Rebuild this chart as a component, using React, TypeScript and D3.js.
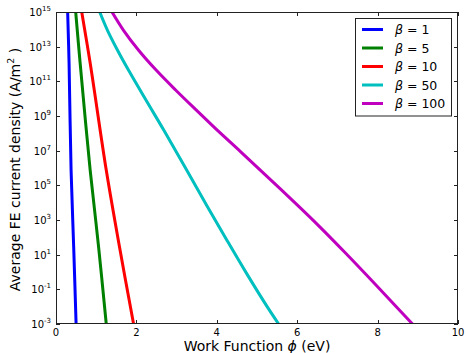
import React from "react";
import * as d3 from "d3";

const betaLabels = ["1", "5", "10", "50", "100"];
const colors = ["#0000ff", "#008000", "#ff0000", "#00bfbf", "#bf00bf"];

// Work function (eV) and log10 of current density (A/m^2)
const phiB1 = [0.29, 0.325, 0.375, 0.44, 0.5];
const logB1 = [15, 12.06, 5.88, 1.44, -3];
const phiB5 = [0.49, 0.6, 0.85, 1.06, 1.25];
const logB5 = [15, 12.06, 5.88, 1.44, -3];
const phiB10 = [0.64, 0.85, 1.25, 1.58, 1.93];
const logB10 = [15, 12.06, 5.88, 1.44, -3];
const phiB50 = [1.0875, 1.2775, 1.5275, 1.8025, 2.2375, 2.68, 3.25, 3.7675, 4.2475, 4.74, 5.2525, 5.5375];
const logB50 = [15, 13.96, 12.81, 11.65, 9.92, 8.19, 5.88, 3.77, 1.85, -0.08, -2.0, -3];
const phiB100 = [1.393, 1.675, 2.05, 2.49, 2.975, 3.485, 4.01, 4.545, 5.1675, 6.045, 6.555, 7.2075, 8.0, 8.8675];
const logB100 = [15, 13.96, 12.81, 11.65, 10.5, 9.35, 8.19, 7.04, 5.69, 3.77, 2.62, 1.08, -0.85, -3];

const xTicks = [0, 2, 4, 6, 8, 10];
const yTickExps = [-3, -1, 1, 3, 5, 7, 9, 11, 13, 15];

const seriesPhi = [phiB1, phiB5, phiB10, phiB50, phiB100];
const seriesLog = [logB1, logB5, logB10, logB50, logB100];

export default function App() {
  const W = 466, H = 353;
  const L = 56, R = 458, T = 12, B = 324;
  const x = d3.scaleLinear().domain([0, 10]).range([L, R]);
  const y = d3.scaleLog().domain([1e-3, 1e15]).range([B, T]);
  const line = d3
    .line<[number, number]>()
    .x((d) => x(d[0]))
    .y((d) => y(d[1]))
    .curve(d3.curveCatmullRom.alpha(0.5));
  const font = "DejaVu Sans, sans-serif";
  const tick = 4;
  return (
    <svg
      width={W}
      height={H}
      style={{ position: "absolute", left: 0, top: 0, background: "#fff" }}
      fontFamily={font}
    >
      <defs>
        <clipPath id="plot">
          <rect x={L} y={T} width={R - L} height={B - T} />
        </clipPath>
      </defs>
      <g clipPath="url(#plot)">
        {seriesPhi.map((ph, i) => {
          const pts: [number, number][] = ph.map((p, j) => [p, Math.pow(10, seriesLog[i][j])]);
          return (
            <path
              key={i}
              d={line(pts) || ""}
              fill="none"
              stroke={colors[i]}
              strokeWidth={3}
              strokeLinejoin="round"
            />
          );
        })}
      </g>
      <rect x={L + 0.5} y={T + 0.5} width={R - L - 1} height={B - T - 1} fill="none" stroke="#222" strokeWidth={1} />
      {xTicks.map((t) => {
        const px = Math.round(x(t)) + 0.5;
        return (
          <g key={"x" + t}>
            <line x1={px} x2={px} y1={B} y2={B - tick} stroke="#222" />
            <line x1={px} x2={px} y1={T} y2={T + tick} stroke="#222" />
            <text x={x(t)} y={336} fontSize={10} textAnchor="middle" fill="#000">
              {t}
            </text>
          </g>
        );
      })}
      {yTickExps.map((e) => {
        const py = Math.round(y(Math.pow(10, e))) + 0.5;
        return (
          <g key={"y" + e}>
            <line x1={L} x2={L + tick} y1={py} y2={py} stroke="#222" />
            <line x1={R} x2={R - tick} y1={py} y2={py} stroke="#222" />
            <text x={51} y={y(Math.pow(10, e)) + 4} fontSize={10} textAnchor="end" fill="#000">
              10
              <tspan fontSize={7} dy={-5}>
                {e}
              </tspan>
            </text>
          </g>
        );
      })}
      <text x={(L + R) / 2} y={350.5} fontSize={14} textAnchor="middle" fill="#000">
        Work Function <tspan fontStyle="italic">ϕ</tspan> (eV)
      </text>
      <text
        transform={`translate(19.5,${(T + B) / 2 + 1.5}) rotate(-90)`}
        fontSize={14}
        textAnchor="middle"
        fill="#000"
      >
        Average FE current density (A/m
        <tspan fontSize={9.5} dy={-6}>2</tspan>
        <tspan dy={6}> )</tspan>
      </text>
      <rect x={355.5} y={18.5} width={96} height={97.5} fill="#fff" stroke="#222" strokeWidth={1} />
      {betaLabels.map((b, i) => {
        const ly = 29.5 + i * 18.5;
        return (
          <g key={"l" + b}>
            <line x1={362} x2={383} y1={ly} y2={ly} stroke={colors[i]} strokeWidth={3} />
            <text x={395} y={ly + 4.5} fontSize={12.5} fill="#000">
              <tspan fontStyle="italic">β</tspan> = {b}
            </text>
          </g>
        );
      })}
    </svg>
  );
}
